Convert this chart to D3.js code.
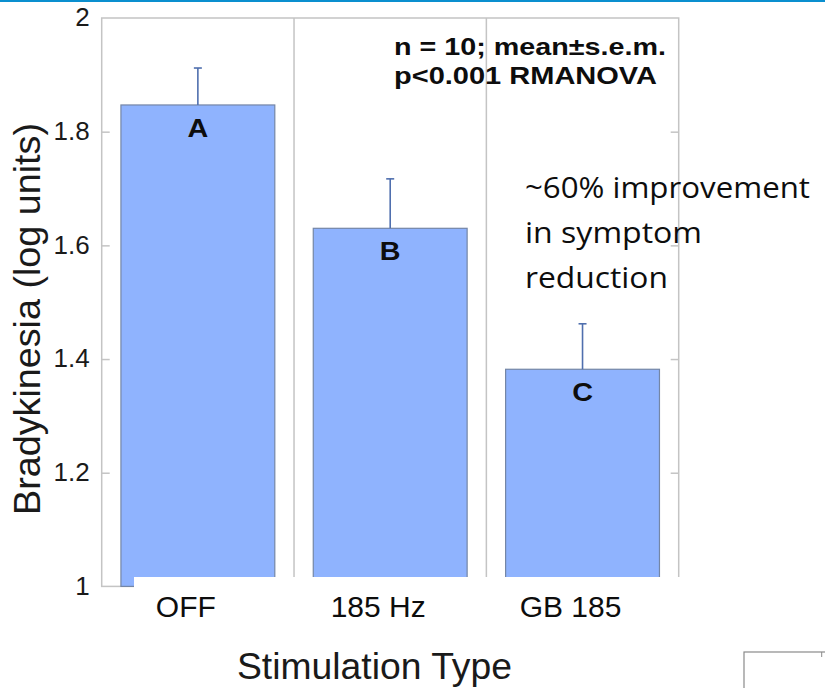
<!DOCTYPE html>
<html><head><meta charset="utf-8">
<script src="https://cdn.jsdelivr.net/npm/d3@7/dist/d3.min.js"></script>
<style>html,body{margin:0;padding:0;background:#fff;}svg{display:block;}</style>
</head><body>
<script>
const categories = ["OFF", "185 Hz", "GB 185"];
const means = [1.847, 1.630, 1.382];
const sems = [0.065, 0.087, 0.080];
const groupLetters = ["A", "B", "C"];
const yTicks = [1, 1.2, 1.4, 1.6, 1.8, 2];
const yTickLabels = ["1", "1.2", "1.4", "1.6", "1.8", "2"];
const statLines = ["n = 10; mean\u00b1s.e.m.", "p<0.001 RMANOVA"];
const noteLines = ["~60% improvement", "in symptom", "reduction"];

const W = 825, H = 688;
const svg = d3.select("body").append("svg").attr("width", W).attr("height", H);
const font = "'Liberation Sans', Arial, Helvetica, sans-serif";

// top blue rule
svg.append("rect").attr("x", 0).attr("y", 0).attr("width", W).attr("height", 2).attr("fill", "#0a8fcf");

const L = 101.7, R = 678.7, T = 18, B = 586.4;
const x = d3.scaleBand().domain(categories).range([L, R]).padding(0);
const y = d3.scaleLinear().domain([1, 2]).range([B, T]);
const grid = "#c4c4c4";

// frame
svg.append("rect").attr("x", L).attr("y", T).attr("width", R - L).attr("height", B - T)
  .attr("fill", "none").attr("stroke", grid).attr("stroke-width", 1.5);
// category separators
svg.selectAll("line.sep").data(categories.slice(1)).enter().append("line")
  .attr("x1", d => x(d)).attr("x2", d => x(d)).attr("y1", T).attr("y2", B)
  .attr("stroke", grid).attr("stroke-width", 1.5);

// inward ticks via axes
const inner = yTicks.filter(v => v > 1 && v < 2);
const axL = svg.append("g").attr("transform", `translate(${L},0)`)
  .call(d3.axisRight(y).tickValues(inner).tickSize(8).tickFormat(""));
const axR = svg.append("g").attr("transform", `translate(${R},0)`)
  .call(d3.axisLeft(y).tickValues(inner).tickSize(8).tickFormat(""));
[axL, axR].forEach(g => { g.select(".domain").remove(); g.selectAll("line").attr("stroke", grid).attr("stroke-width", 1.5); });

// tick labels
const axLab = svg.append("g").attr("transform", `translate(${L},0)`)
  .call(d3.axisLeft(y).tickValues(yTicks).tickSize(0).tickPadding(12)
    .tickFormat((d, i) => yTickLabels[i]));
axLab.select(".domain").remove();
axLab.selectAll("text").attr("font-family", font).attr("font-size", 26).attr("fill", "#1a1a1a").attr("dy", "0.3em");

// bars
const bw = x.bandwidth();
svg.selectAll("rect.bar").data(categories).enter().append("rect")
  .attr("x", d => x(d) + bw * 0.1).attr("width", bw * 0.8)
  .attr("y", (d, i) => y(means[i])).attr("height", (d, i) => y(1) - y(means[i]))
  .attr("fill", "#8fb3fe").attr("stroke", "#7486a6").attr("stroke-width", 1.2);

// error bars
const eb = svg.append("g").attr("stroke", "#4f6fae").attr("stroke-width", 1.6);
categories.forEach((c, i) => {
  const cx = x(c) + bw / 2;
  eb.append("line").attr("x1", cx).attr("x2", cx).attr("y1", y(means[i])).attr("y2", y(means[i] + sems[i]));
  eb.append("line").attr("x1", cx - 4).attr("x2", cx + 4).attr("y1", y(means[i] + sems[i])).attr("y2", y(means[i] + sems[i]));
});

// group letters
svg.selectAll("text.letter").data(categories).enter().append("text")
  .attr("x", d => x(d) + bw / 2).attr("y", (d, i) => y(means[i]) + 32)
  .attr("text-anchor", "middle").attr("font-family", font).attr("font-weight", "bold")
  .attr("font-size", 25).attr("fill", "#0d0d0d").text((d, i) => groupLetters[i])
  .attr("transform", function(d, i) { const cx = x(d) + bw / 2; return `translate(${cx},0) scale(1.15,1) translate(${-cx},0)`; });

// white mask over bottom
svg.append("rect").attr("x", 134).attr("y", 577).attr("width", W - 134).attr("height", H - 577).attr("fill", "#fff");

// category labels
svg.selectAll("text.cat").data(categories).enter().append("text")
  .attr("x", d => x(d) + bw / 2 - 12).attr("y", 617)
  .attr("text-anchor", "middle").attr("font-family", font).attr("font-size", 30).attr("fill", "#0d0d0d").text(d => d);

// axis titles
svg.append("text").attr("x", 237).attr("y", 679)
  .attr("textLength", 275).attr("lengthAdjust", "spacingAndGlyphs")
  .attr("font-family", font).attr("font-size", 36).attr("fill", "#1a1a1a").text("Stimulation Type");
svg.append("text").attr("transform", "translate(40,515) rotate(-90)")
  .attr("textLength", 392).attr("lengthAdjust", "spacingAndGlyphs")
  .attr("font-family", font).attr("font-size", 36).attr("fill", "#1a1a1a").text("Bradykinesia (log units)");

// stats annotation
const statLens = [272, 263];
svg.selectAll("text.stat").data(statLines).enter().append("text")
  .attr("x", 394).attr("y", (d, i) => 55 + i * 28.5)
  .attr("font-family", font).attr("font-weight", "bold").attr("font-size", 24.5).attr("fill", "#0d0d0d")
  .attr("textLength", (d, i) => statLens[i]).attr("lengthAdjust", "spacingAndGlyphs").text(d => d);

// improvement note
const noteLens = [285, 177, 143];
svg.selectAll("text.note").data(noteLines).enter().append("text")
  .attr("x", 525).attr("y", (d, i) => 197.5 + i * 45.3)
  .attr("font-family", "'Open Sans', 'Noto Sans', sans-serif").attr("font-size", 30).attr("fill", "#0d0d0d")
  .attr("textLength", (d, i) => noteLens[i]).attr("lengthAdjust", "spacingAndGlyphs").text(d => d);

// small box bottom right
svg.append("rect").attr("x", 744).attr("y", 652).attr("width", 100).attr("height", 60)
  .attr("fill", "#fff").attr("stroke", "#8a8a8a").attr("stroke-width", 1.2);
svg.append("line").attr("x1", 821.7).attr("x2", 821.7).attr("y1", 652).attr("y2", 657)
  .attr("stroke", "#8a8a8a").attr("stroke-width", 1);
</script>
</body></html>
